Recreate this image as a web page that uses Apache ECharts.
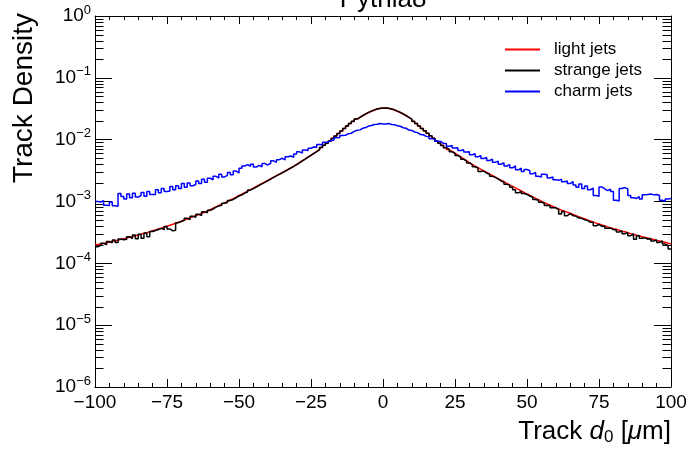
<!DOCTYPE html>
<html>
<head>
<meta charset="utf-8">
<script src="https://cdn.jsdelivr.net/npm/echarts@6/dist/echarts.min.js"></script>
<style>
  html, body { margin: 0; padding: 0; background: #fff; }
  #chart { width: 693px; height: 449px; }
</style>
</head>
<body>
<div id="chart"></div>
<script>
// histogram binning: 200 bins of 1 um from -100 to 100
const xMin = -100;
const xMax = 100;
const binWidth = 1;

const seriesNames = ['light jets', 'strange jets', 'charm jets'];

// bin contents, left to right
const lightJets = [
  2.02e-4, 2.06e-4, 2.10e-4, 2.15e-4, 2.20e-4, 2.26e-4, 2.31e-4, 2.37e-4, 2.44e-4, 2.50e-4,
  2.56e-4, 2.65e-4, 2.72e-4, 2.80e-4, 2.88e-4, 2.97e-4, 3.06e-4, 3.14e-4, 3.25e-4, 3.36e-4,
  3.46e-4, 3.58e-4, 3.70e-4, 3.84e-4, 3.98e-4, 4.12e-4, 4.28e-4, 4.45e-4, 4.62e-4, 4.80e-4,
  5.03e-4, 5.22e-4, 5.43e-4, 5.66e-4, 5.89e-4, 6.14e-4, 6.40e-4, 6.66e-4, 6.95e-4, 7.35e-4,
  7.80e-4, 8.20e-4, 8.60e-4, 9.05e-4, 9.50e-4, 1.00e-3, 1.06e-3, 1.11e-3, 1.18e-3, 1.25e-3,
  1.31e-3, 1.39e-3, 1.47e-3, 1.56e-3, 1.65e-3, 1.75e-3, 1.85e-3, 1.96e-3, 2.08e-3, 2.20e-3,
  2.33e-3, 2.47e-3, 2.62e-3, 2.78e-3, 2.94e-3, 3.12e-3, 3.30e-3, 3.50e-3, 3.71e-3, 3.97e-3,
  4.26e-3, 4.56e-3, 4.89e-3, 5.24e-3, 5.61e-3, 6.02e-3, 6.45e-3, 6.91e-3, 7.49e-3, 8.12e-3,
  8.80e-3, 9.54e-3, 1.05e-2, 1.15e-2, 1.26e-2, 1.38e-2, 1.51e-2, 1.66e-2, 1.82e-2, 1.97e-2,
  2.14e-2, 2.29e-2, 2.45e-2, 2.60e-2, 2.75e-2, 2.88e-2, 3.02e-2, 3.13e-2, 3.20e-2, 3.24e-2,
  3.24e-2, 3.20e-2, 3.13e-2, 3.02e-2, 2.88e-2, 2.75e-2, 2.60e-2, 2.45e-2, 2.29e-2, 2.14e-2,
  1.97e-2, 1.82e-2, 1.66e-2, 1.51e-2, 1.38e-2, 1.26e-2, 1.15e-2, 1.05e-2, 9.55e-3, 8.81e-3,
  8.13e-3, 7.50e-3, 6.92e-3, 6.46e-3, 6.03e-3, 5.62e-3, 5.25e-3, 4.90e-3, 4.57e-3, 4.27e-3,
  3.98e-3, 3.72e-3, 3.51e-3, 3.31e-3, 3.13e-3, 2.95e-3, 2.79e-3, 2.63e-3, 2.48e-3, 2.34e-3,
  2.21e-3, 2.09e-3, 1.97e-3, 1.86e-3, 1.76e-3, 1.66e-3, 1.57e-3, 1.48e-3, 1.40e-3, 1.32e-3,
  1.26e-3, 1.19e-3, 1.12e-3, 1.07e-3, 1.01e-3, 9.55e-4, 9.12e-4, 8.71e-4, 8.32e-4, 7.94e-4,
  7.59e-4, 7.24e-4, 7.00e-4, 6.68e-4, 6.46e-4, 6.17e-4, 5.89e-4, 5.69e-4, 5.43e-4, 5.25e-4,
  5.01e-4, 4.84e-4, 4.68e-4, 4.47e-4, 4.32e-4, 4.17e-4, 4.03e-4, 3.89e-4, 3.76e-4, 3.63e-4,
  3.55e-4, 3.43e-4, 3.31e-4, 3.24e-4, 3.13e-4, 3.02e-4, 2.95e-4, 2.85e-4, 2.79e-4, 2.69e-4,
  2.63e-4, 2.57e-4, 2.48e-4, 2.43e-4, 2.34e-4, 2.29e-4, 2.24e-4, 2.19e-4, 2.11e-4, 2.07e-4
];

const strangeJets = [
  1.85e-4, 1.95e-4, 2.12e-4, 2.00e-4, 2.25e-4, 2.15e-4, 2.38e-4, 2.18e-4, 2.47e-4, 2.40e-4,
  2.45e-4, 2.70e-4, 2.52e-4, 2.86e-4, 2.50e-4, 2.95e-4, 2.55e-4, 3.10e-4, 2.70e-4, 3.28e-4,
  3.40e-4, 3.52e-4, 3.68e-4, 3.50e-4, 3.95e-4, 3.60e-4, 3.35e-4, 3.42e-4, 4.55e-4, 4.75e-4,
  4.95e-4, 5.35e-4, 5.10e-4, 5.80e-4, 5.55e-4, 6.20e-4, 5.95e-4, 6.80e-4, 6.60e-4, 7.20e-4,
  7.55e-4, 8.10e-4, 8.45e-4, 8.70e-4, 9.40e-4, 9.65e-4, 1.04e-3, 1.08e-3, 1.15e-3, 1.23e-3,
  1.28e-3, 1.37e-3, 1.42e-3, 1.53e-3, 1.62e-3, 1.71e-3, 1.82e-3, 1.93e-3, 2.04e-3, 2.18e-3,
  2.30e-3, 2.45e-3, 2.59e-3, 2.74e-3, 2.91e-3, 3.08e-3, 3.27e-3, 3.48e-3, 3.69e-3, 3.94e-3,
  4.22e-3, 4.54e-3, 4.85e-3, 5.21e-3, 5.58e-3, 6.00e-3, 6.42e-3, 6.90e-3, 7.46e-3, 8.10e-3,
  8.78e-3, 9.52e-3, 1.04e-2, 1.15e-2, 1.26e-2, 1.38e-2, 1.51e-2, 1.66e-2, 1.82e-2, 1.98e-2,
  2.15e-2, 2.30e-2, 2.46e-2, 2.61e-2, 2.76e-2, 2.89e-2, 3.03e-2, 3.14e-2, 3.21e-2, 3.25e-2,
  3.25e-2, 3.21e-2, 3.14e-2, 3.03e-2, 2.89e-2, 2.76e-2, 2.61e-2, 2.46e-2, 2.30e-2, 2.15e-2,
  1.98e-2, 1.83e-2, 1.67e-2, 1.52e-2, 1.39e-2, 1.27e-2, 1.16e-2, 1.05e-2, 9.50e-3, 8.78e-3,
  8.05e-3, 7.42e-3, 6.95e-3, 6.38e-3, 6.00e-3, 5.55e-3, 5.20e-3, 4.82e-3, 4.55e-3, 4.20e-3,
  3.95e-3, 3.65e-3, 3.48e-3, 3.05e-3, 3.10e-3, 2.88e-3, 2.76e-3, 2.55e-3, 2.46e-3, 2.30e-3,
  2.15e-3, 2.06e-3, 1.90e-3, 1.84e-3, 1.70e-3, 1.55e-3, 1.38e-3, 1.46e-3, 1.35e-3, 1.30e-3,
  1.22e-3, 1.18e-3, 1.08e-3, 1.05e-3, 9.70e-4, 9.45e-4, 8.60e-4, 8.65e-4, 7.95e-4, 7.90e-4,
  7.40e-4, 6.30e-4, 6.90e-4, 5.90e-4, 6.35e-4, 5.90e-4, 5.80e-4, 5.40e-4, 5.35e-4, 5.05e-4,
  4.95e-4, 4.60e-4, 4.62e-4, 4.05e-4, 4.25e-4, 3.95e-4, 4.00e-4, 3.70e-4, 3.72e-4, 3.50e-4,
  3.48e-4, 3.20e-4, 3.35e-4, 3.00e-4, 3.15e-4, 2.80e-4, 2.98e-4, 2.45e-4, 2.80e-4, 2.55e-4,
  2.60e-4, 2.45e-4, 2.52e-4, 2.30e-4, 2.40e-4, 2.18e-4, 2.30e-4, 2.05e-4, 1.95e-4, 1.70e-4
];

const charmJets = [
  1.00e-3, 0.98e-3, 1.03e-3, 0.87e-3, 0.86e-3, 0.98e-3, 0.85e-3, 0.84e-3, 1.35e-3, 1.20e-3,
  1.10e-3, 1.32e-3, 1.15e-3, 1.36e-3, 1.18e-3, 1.25e-3, 1.40e-3, 1.22e-3, 1.45e-3, 1.30e-3,
  1.30e-3, 1.55e-3, 1.38e-3, 1.62e-3, 1.45e-3, 1.48e-3, 1.75e-3, 1.55e-3, 1.80e-3, 1.62e-3,
  1.95e-3, 1.70e-3, 2.00e-3, 1.80e-3, 1.88e-3, 2.15e-3, 1.95e-3, 2.30e-3, 2.05e-3, 2.38e-3,
  2.25e-3, 2.55e-3, 2.40e-3, 2.75e-3, 2.50e-3, 2.65e-3, 2.95e-3, 2.70e-3, 3.10e-3, 2.90e-3,
  3.45e-3, 3.75e-3, 3.95e-3, 3.70e-3, 4.00e-3, 3.60e-3, 3.85e-3, 3.65e-3, 4.10e-3, 3.90e-3,
  4.15e-3, 4.55e-3, 4.30e-3, 4.75e-3, 5.00e-3, 4.70e-3, 5.30e-3, 5.45e-3, 5.20e-3, 5.85e-3,
  6.35e-3, 6.10e-3, 6.80e-3, 6.70e-3, 7.25e-3, 7.60e-3, 7.55e-3, 8.35e-3, 8.25e-3, 9.10e-3,
  9.10e-3, 9.70e-3, 9.90e-3, 1.07e-2, 1.08e-2, 1.17e-2, 1.18e-2, 1.25e-2, 1.27e-2, 1.36e-2,
  1.42e-2, 1.44e-2, 1.53e-2, 1.57e-2, 1.66e-2, 1.69e-2, 1.76e-2, 1.77e-2, 1.83e-2, 1.80e-2,
  1.79e-2, 1.82e-2, 1.76e-2, 1.75e-2, 1.68e-2, 1.65e-2, 1.56e-2, 1.53e-2, 1.43e-2, 1.41e-2,
  1.33e-2, 1.30e-2, 1.21e-2, 1.20e-2, 1.13e-2, 1.11e-2, 1.03e-2, 1.02e-2, 9.40e-3, 9.35e-3,
  8.70e-3, 8.70e-3, 7.85e-3, 8.05e-3, 7.30e-3, 7.40e-3, 6.70e-3, 6.85e-3, 6.30e-3, 6.35e-3,
  5.70e-3, 5.90e-3, 5.30e-3, 5.50e-3, 4.95e-3, 5.15e-3, 4.60e-3, 4.85e-3, 4.30e-3, 4.50e-3,
  4.00e-3, 4.25e-3, 3.75e-3, 3.95e-3, 3.50e-3, 3.75e-3, 3.25e-3, 3.45e-3, 3.05e-3, 3.30e-3,
  3.15e-3, 2.80e-3, 2.95e-3, 2.55e-3, 2.50e-3, 2.75e-3, 2.70e-3, 2.40e-3, 2.50e-3, 2.25e-3,
  2.20e-3, 2.30e-3, 2.08e-3, 2.15e-3, 1.95e-3, 2.10e-3, 1.85e-3, 1.70e-3, 1.92e-3, 1.62e-3,
  1.78e-3, 1.55e-3, 1.65e-3, 1.25e-3, 1.22e-3, 1.72e-3, 1.60e-3, 1.50e-3, 1.58e-3, 1.45e-3,
  1.05e-3, 1.02e-3, 1.62e-3, 1.68e-3, 1.60e-3, 1.25e-3, 1.15e-3, 1.12e-3, 1.20e-3, 1.10e-3,
  1.28e-3, 1.30e-3, 1.32e-3, 1.28e-3, 1.30e-3, 1.25e-3, 1.05e-3, 1.00e-3, 1.10e-3, 1.12e-3
];

[lightJets, strangeJets, charmJets].forEach((a, i) => {
  if (a.length !== 200) throw new Error(seriesNames[i] + ' has ' + a.length + ' bins');
});

const FONT = '"Liberation Sans", Arial, Helvetica, sans-serif';
const MINUS = '\u2212';

// step line points: left edge of every bin, plus the closing right edge
function histPoints(vals) {
  const pts = vals.map((v, i) => [xMin + i * binWidth, v]);
  pts.push([xMax, vals[vals.length - 1]]);
  return pts;
}

// ROOT style 2..9 minor ticks on the log axis
const logMinorTicks = [];
for (let e = -6; e < 0; e++) {
  for (let m = 2; m <= 9; m++) logMinorTicks.push(m * Math.pow(10, e));
}

const chart = echarts.init(document.getElementById('chart'));

const xAxisBase = {
  type: 'value',
  min: xMin,
  max: xMax,
  interval: 25,
  axisLine: { show: true, onZero: false, lineStyle: { color: '#000', width: 1 } },
  axisTick: { show: true, inside: true, length: 8, lineStyle: { color: '#000' } },
  minorTick: { show: true, splitNumber: 5, length: 4, lineStyle: { color: '#000' } },
  splitLine: { show: false }
};

const yAxisBase = {
  type: 'log',
  logBase: 10,
  min: 1e-6,
  max: 1,
  axisLine: { show: true, onZero: false, lineStyle: { color: '#000', width: 1 } },
  axisTick: { show: true, inside: true, length: 17, lineStyle: { color: '#000' } },
  splitLine: { show: false }
};

function histSeries(name, vals, color) {
  return {
    name: name,
    type: 'line',
    step: 'end',
    symbol: 'none',
    data: histPoints(vals),
    lineStyle: { color: color, width: 1.5 },
    itemStyle: { color: color }
  };
}

const option = {
  animation: false,
  backgroundColor: '#fff',
  grid: { left: 95, right: 22, top: 16, bottom: 62 },
  xAxis: [
    Object.assign({}, xAxisBase, {
      position: 'bottom',
      axisLabel: {
        color: '#000',
        fontSize: 19,
        fontFamily: FONT,
        margin: 6,
        formatter: v => (v < 0 ? MINUS + (-v) : String(v))
      }
    }),
    Object.assign({}, xAxisBase, { position: 'top', axisLabel: { show: false } })
  ],
  yAxis: [
    Object.assign({}, yAxisBase, {
      position: 'left',
      axisLabel: {
        margin: 4,
        formatter: v => {
          const e = Math.round(Math.log10(v));
          return '{b|10}{s|' + (e < 0 ? MINUS + (-e) : e) + '}';
        },
        rich: {
          b: { fontSize: 19, fontFamily: FONT, color: '#000' },
          s: { fontSize: 13, fontFamily: FONT, color: '#000', padding: [0, 0, 12, 0] }
        }
      }
    }),
    Object.assign({}, yAxisBase, { position: 'right', axisLabel: { show: false } })
  ],
  legend: {
    data: seriesNames,
    orient: 'vertical',
    left: 500,
    top: 36,
    icon: 'rect',
    itemWidth: 35,
    itemHeight: 2,
    itemGap: 4,
    textStyle: { fontSize: 17, fontFamily: FONT, color: '#000', padding: [0, 0, 0, 9] }
  },
  graphic: [
    {
      type: 'text',
      x: 383,
      y: 0,
      style: { text: 'Pythia8', font: '26px ' + FONT, fill: '#000', align: 'center', verticalAlign: 'middle' }
    },
    {
      type: 'text',
      x: 24,
      y: 13,
      rotation: Math.PI / 2,
      style: { text: 'Track Density', font: '28px ' + FONT, fill: '#000', align: 'right', verticalAlign: 'middle' }
    },
    {
      type: 'text',
      right: 22,
      top: 419,
      style: {
        text: 'Track {i|d}{sub|0} [{i|\u03bc}m]',
        font: '26px ' + FONT,
        fill: '#000',
        rich: {
          i: { fontStyle: 'italic', fontSize: 26, fontFamily: FONT },
          sub: { fontSize: 17, fontFamily: FONT, padding: [10, 0, 0, 0] }
        }
      }
    }
  ],
  series: [
    histSeries(seriesNames[0], lightJets, '#ff0000'),
    histSeries(seriesNames[1], strangeJets, '#000000'),
    histSeries(seriesNames[2], charmJets, '#0000ff'),
    {
      type: 'custom',
      silent: true,
      clip: false,
      data: logMinorTicks.map(v => [xMin, v]),
      renderItem: (params, api) => {
        const v = api.value(1);
        const l = api.coord([xMin, v]);
        const r = api.coord([xMax, v]);
        const y = Math.round(l[1]) + 0.5;
        return {
          type: 'group',
          children: [
            { type: 'line', shape: { x1: l[0], y1: y, x2: l[0] + 8.5, y2: y }, style: { stroke: '#000', lineWidth: 1 } },
            { type: 'line', shape: { x1: r[0] - 8.5, y1: y, x2: r[0], y2: y }, style: { stroke: '#000', lineWidth: 1 } }
          ]
        };
      }
    }
  ]
};

chart.setOption(option);
</script>
</body>
</html>
